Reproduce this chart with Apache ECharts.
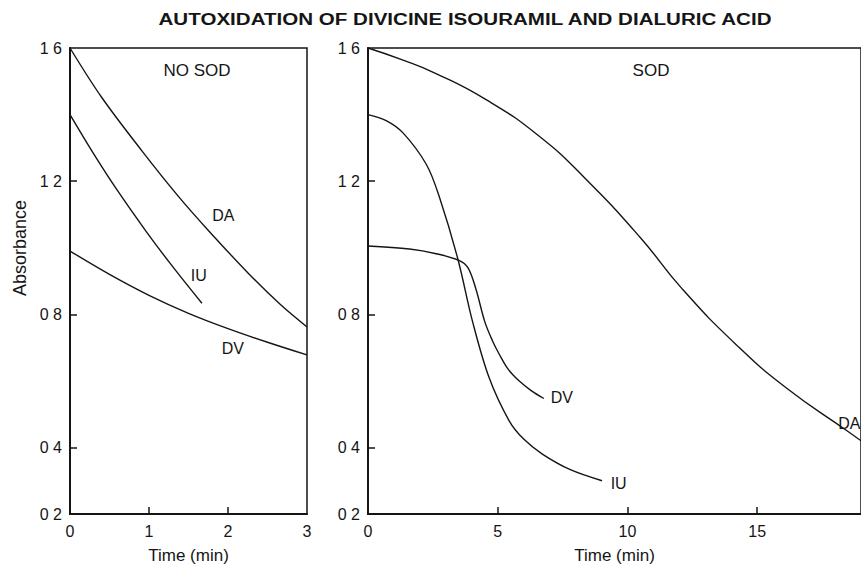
<!DOCTYPE html>
<html>
<head>
  <meta charset="UTF-8">
  <title>Autoxidation</title>
  <script src="https://cdn.jsdelivr.net/npm/echarts@6/dist/echarts.min.js"></script>
  <style>
    html, body { margin: 0; padding: 0; background: #fff; }
    #main { width: 861px; height: 569px; }
  </style>
</head>
<body>
<div id="main"></div>
<script type="text/javascript">
  // values: [time (min), absorbance]
  var noSodDA = [[0, 1.6], [0.4, 1.452], [0.92, 1.288], [1.38, 1.152], [1.74, 1.055], [2.25, 0.925], [2.66, 0.83], [3, 0.762]];
  var noSodIU = [[0, 1.4], [0.3, 1.282], [0.6, 1.172], [0.97, 1.047], [1.3, 0.943], [1.67, 0.833]];
  var noSodDV = [[0, 0.99], [0.5, 0.92], [1.0, 0.857], [1.5, 0.803], [2.0, 0.757], [2.5, 0.716], [3, 0.678]];

  var sodDA = [[0, 1.6], [1.3, 1.565], [2.6, 1.524], [4.55, 1.445], [6.6, 1.335], [8.4, 1.206], [10.5, 1.03],
               [12.1, 0.877], [14.2, 0.708], [16.1, 0.58], [18.5, 0.448], [19, 0.42]];
  var sodIU = [[0, 1.4], [0.7, 1.382], [1.35, 1.345], [2.25, 1.25], [2.76, 1.15], [3.46, 0.967], [4.03, 0.778], [4.67, 0.609],
               [5.44, 0.48], [6.0, 0.425], [6.72, 0.38], [7.8, 0.333], [9.02, 0.3]];
  var sodDV = [[0, 1.005], [1.6, 0.996], [2.63, 0.982], [3.5, 0.962], [3.85, 0.94], [4.15, 0.878], [4.5, 0.778], [4.8, 0.72],
               [5.06, 0.68], [5.4, 0.635], [5.82, 0.6], [6.3, 0.57], [6.78, 0.547]];

  // tick labels (the decimal points are lost in the print)
  var yTicks = [0.2, 0.4, 0.8, 1.2, 1.6];
  var yTickText = ['0 2', '0 4', '0 8', '1 2', '1 6'];
  var xTicksNoSod = [0, 1, 2, 3];
  var xTicksSod = [0, 5, 10, 15];

  var ink = '#151515';
  var font = 'Liberation Sans, Arial, sans-serif';

  var myChart = echarts.init(document.getElementById('main'), null, {renderer: 'svg'});

  function yLabel(v) {
    for (var i = 0; i < yTicks.length; i++) {
      if (Math.abs(yTicks[i] - v) < 1e-6) return yTickText[i];
    }
    return '';
  }

  function xAxisFor(idx, max, ticks) {
    return {
      gridIndex: idx, type: 'value', min: 0, max: max,
      name: 'Time (min)', nameLocation: 'middle', nameGap: 33,
      nameTextStyle: {fontFamily: font, fontSize: 17, color: ink},
      axisLine: {show: true, lineStyle: {color: ink, width: 2}},
      axisTick: {show: true, inside: true, length: 7, customValues: ticks.slice(1, ticks.length - (idx === 0 ? 1 : 0)), lineStyle: {color: ink, width: 1.5}},
      axisLabel: {customValues: ticks, margin: 9, fontFamily: font, fontSize: 16, color: ink},
      splitLine: {show: false}
    };
  }

  function yAxisFor(idx) {
    return {
      gridIndex: idx, type: 'value', min: 0.2, max: 1.6,
      axisLine: {show: true, lineStyle: {color: ink, width: 2}},
      axisTick: {show: true, inside: true, length: 7, customValues: yTicks.slice(1, yTicks.length - 1), lineStyle: {color: ink, width: 1.5}},
      axisLabel: {customValues: yTicks, margin: 8, fontFamily: font, fontSize: 16, color: ink, formatter: yLabel},
      splitLine: {show: false}
    };
  }

  function curve(name, data, idx, labelAt, smooth) {
    return {
      name: name, type: 'line', xAxisIndex: idx, yAxisIndex: idx,
      data: data, showSymbol: false, smooth: smooth || 0.35,
      lineStyle: {color: ink, width: 1.4},
      silent: true,
      markPoint: {
        symbol: 'circle', symbolSize: 0, silent: true,
        label: {show: true, position: 'inside', formatter: '{b}', fontFamily: font, fontSize: 16, color: ink},
        data: [{name: name, coord: labelAt}]
      }
    };
  }

  myChart.setOption({
    animation: false,
    backgroundColor: '#fff',
    grid: [
      {left: 70, top: 48, width: 237, height: 469, show: true, borderColor: ink, borderWidth: 1.5},
      {left: 368, top: 48, right: -2, height: 469, show: true, borderColor: ink, borderWidth: 1.5}
    ],
    xAxis: [xAxisFor(0, 3, xTicksNoSod), xAxisFor(1, 19, xTicksSod)],
    yAxis: [yAxisFor(0), yAxisFor(1)],
    graphic: [
      {type: 'text', x: 465, y: 19, scaleX: 1.21,
       style: {text: 'AUTOXIDATION OF DIVICINE ISOURAMIL AND DIALURIC ACID', fontFamily: font, fontSize: 17, fontWeight: 'bold',
               fill: ink, align: 'center', verticalAlign: 'middle'}},
      {type: 'text', x: 20, y: 248, rotation: Math.PI / 2,
       style: {text: 'Absorbance', fontFamily: font, fontSize: 18, fill: ink, align: 'center', verticalAlign: 'middle'}},
      {type: 'text', x: 197, y: 70,
       style: {text: 'NO SOD', fontFamily: font, fontSize: 17, fill: ink, align: 'center', verticalAlign: 'middle'}},
      {type: 'text', x: 651, y: 70,
       style: {text: 'SOD', fontFamily: font, fontSize: 17, fill: ink, align: 'center', verticalAlign: 'middle'}}
    ],
    series: [
      curve('DA', noSodDA, 0, [1.94, 1.096]),
      curve('IU', noSodIU, 0, [1.63, 0.916]),
      curve('DV', noSodDV, 0, [2.06, 0.696]),
      curve('DA', sodDA, 1, [18.55, 0.472], 0.5),
      curve('IU', sodIU, 1, [9.66, 0.293]),
      curve('DV', sodDV, 1, [7.47, 0.549])
    ]
  });
</script>
</body>
</html>
